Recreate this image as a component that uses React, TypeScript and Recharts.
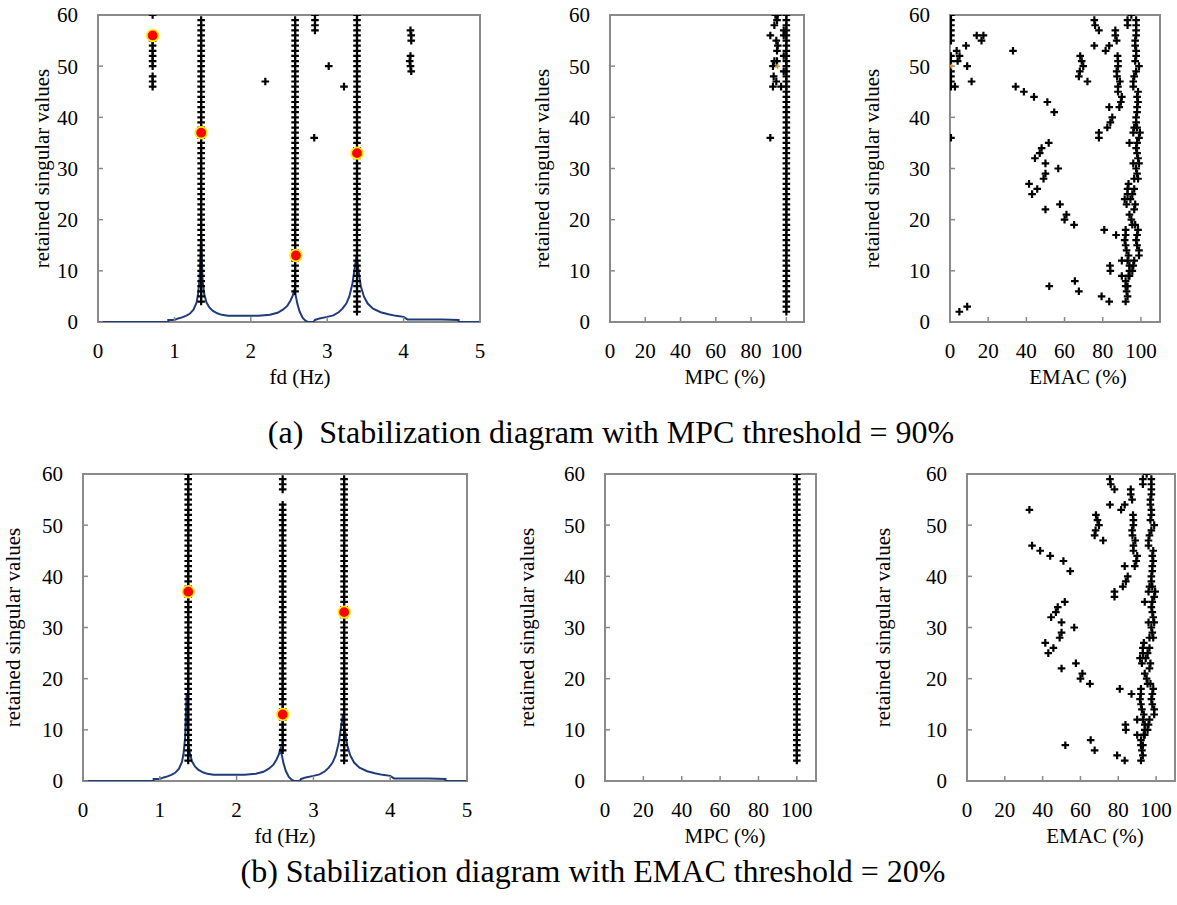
import React from 'react';
import { ComposedChart, XAxis, YAxis, Scatter, Line } from 'recharts';

const SERIF = 'Liberation Serif, Times New Roman, serif';
const FRAME = '#8a8a8a';

const ORDER_TICKS = [0, 10, 20, 30, 40, 50, 60];
const FD_TICKS = [0, 1, 2, 3, 4, 5];
const PCT_TICKS = [0, 20, 40, 60, 80, 100];

// averaged spectrum drawn under the stabilization diagram [fd, amplitude]
const SPECTRUM = [
  [0, 0], [0.92, 0], [0.92, 0.4], [1.0, 0.4], [1.05, 0.7], [1.1, 0.9], [1.15, 1.2], [1.2, 1.6],
  [1.25, 2.4], [1.29, 3.8], [1.31, 5.5], [1.33, 8.5], [1.34, 13], [1.35, 17], [1.36, 12], [1.37, 8],
  [1.39, 5.5], [1.42, 3.8], [1.46, 2.8], [1.5, 2.2], [1.56, 1.7], [1.62, 1.4], [1.7, 1.2], [1.9, 1.2],
  [2.1, 1.2], [2.25, 1.4], [2.35, 1.8], [2.42, 2.4], [2.48, 3.2], [2.52, 4.2], [2.55, 5.2], [2.57, 6.2],
  [2.59, 5], [2.61, 3.5], [2.64, 2], [2.68, 0.8], [2.72, 0.2], [2.75, 0], [2.82, 0], [2.84, 0.4],
  [2.9, 0.7], [3.0, 1.0], [3.08, 1.3], [3.15, 1.9], [3.2, 2.6], [3.25, 3.6], [3.29, 5], [3.33, 7.5],
  [3.36, 10.5], [3.385, 13], [3.41, 10], [3.44, 7], [3.48, 5], [3.53, 3.6], [3.6, 2.6], [3.7, 1.9],
  [3.8, 1.5], [3.9, 1.2], [4.0, 1.0], [4.05, 0.5], [4.5, 0.5], [4.72, 0.4], [4.72, 0], [5, 0],
];

// stable columns: [fd, first order, last order]
const COLUMNS_A = [[1.35, 4, 59], [2.58, 6, 59], [3.39, 2, 60]];
const COLUMNS_B = [[1.37, 4, 60], [2.6, 6, 54], [2.6, 57, 59], [3.4, 4, 59]];

// isolated poles in (a) [fd, order]
const SPURIOUS_A = [
  [0.715, 60], [0.715, 56], [0.715, 55], [0.715, 54], [0.715, 53], [0.715, 52], [0.715, 51],
  [0.715, 50], [0.715, 48], [0.715, 47], [0.715, 46], [2.19, 47], [2.84, 60], [2.84, 59],
  [2.84, 58], [2.84, 57], [2.83, 36], [3.02, 50], [3.22, 46], [4.09, 57], [4.1, 56], [4.1, 55],
  [4.09, 52], [4.08, 51], [4.09, 50], [4.1, 49],
];

// picked modes
const PICKS_A = [[0.715, 56], [1.35, 37], [2.59, 13], [3.39, 33]];
const PICKS_B = [[1.37, 37], [2.6, 13], [3.4, 33]];

// MPC columns: [MPC, first order, last order]
const MPC_COLUMN_A = [[100, 2, 60]];
const MPC_COLUMN_B = [[100, 4, 60]];
const MPC_EXTRA_A = [
  [93.8, 60], [95.1, 60], [94.7, 59], [93.2, 58], [98.5, 57], [90.9, 56], [98.5, 56], [94.3, 55],
  [95.1, 54], [94.7, 53], [98.5, 52], [93.2, 51], [94.7, 51], [92.4, 50], [98.5, 49], [92.8, 48],
  [94.3, 47], [92.4, 46], [97, 46], [90.9, 36],
];
const MPC_ODD_A = [[95, 50]];

// EMAC of every pole in (a) [EMAC, order]
const EMAC_A = [
  [0.5, 60], [0.5, 59], [0.5, 58], [0.5, 57], [0.5, 56], [0.5, 55], [0.5, 52], [0.5, 51],
  [0.5, 49], [0.5, 48], [0.5, 47], [0.5, 46], [0.5, 36], [14, 56], [17.5, 56], [16.5, 55],
  [8.4, 54], [3.5, 53], [5, 52], [4, 51], [9, 50], [11.3, 47], [2.6, 46], [4.9, 2], [9, 3],
  [33, 53], [34.4, 46], [38.7, 45], [44, 44], [51, 43], [54.6, 41],
  [51.7, 35], [48, 34], [47, 33], [44.5, 32], [50, 31], [56.7, 30], [50, 29], [49, 28],
  [41.4, 27], [45.7, 26], [43, 25], [57.6, 23], [50, 22], [61, 21], [60, 20], [65, 19],
  [52, 7], [65.4, 8], [67.5, 6], [79.4, 5], [83.4, 4],
  [80.8, 18], [87, 17], [90, 12], [83.8, 11], [84, 10], [90, 9],
  [75.6, 59], [76, 58], [78, 57], [75.6, 54], [83.4, 54], [81.5, 53], [68.2, 52], [69, 51],
  [69.8, 50], [68, 49], [67.5, 48], [72, 47],
  [86.6, 57], [86.6, 56], [87.3, 55], [87.8, 52], [88, 51], [88, 50], [87.3, 49], [87.5, 48],
  [89, 47], [88, 46], [88, 45], [90, 44], [89.5, 43], [88.7, 42],
  [83.4, 42], [85, 40], [84, 39], [82.4, 38], [78, 37], [78, 36],
  [95, 60], [93, 59], [97.5, 59], [93, 58], [97.5, 58], [97.5, 57], [97.5, 56], [97, 55],
  [97, 54], [97.5, 53], [97.5, 52], [97, 51], [99, 50], [97.5, 49], [96.5, 48], [96, 47],
  [96, 46], [98.5, 45], [98, 44], [98.5, 43], [98, 42], [98, 41], [97.5, 40], [97.5, 39],
  [96.5, 38], [98, 38], [96, 37], [99.5, 37], [99, 36], [94, 35], [98, 35], [97.5, 34],
  [98, 33], [98.5, 32], [96, 31], [99, 31], [97.5, 30], [98, 29], [96.5, 28], [98.5, 28],
  [93.5, 27], [93, 26], [96.5, 26], [93, 25], [95.5, 25], [91.5, 24], [94.5, 24], [92.5, 23],
  [97, 23], [96.5, 22], [94, 21], [95, 20], [95.5, 19], [97, 19], [92, 18], [98.5, 18],
  [92, 17], [98, 17], [91.5, 16], [97.5, 16], [92, 15], [98, 15], [92.5, 14], [99, 14],
  [93.5, 13], [99, 13], [93, 12], [96.5, 12], [94, 11], [96, 11], [94, 10], [95.5, 10],
  [93.5, 9], [94, 9], [92, 8], [92, 7], [93, 7], [92.5, 6], [93, 5], [92, 4],
];
const EMAC_ODD_A = [[0.8, 50]];
const EMAC_THRESHOLD = 20;

const pts = (rows: number[][]) => rows.map(([x, y]) => ({ x, y }));
const columns = (cols: number[][]) =>
  cols.flatMap(([x, lo, hi]) => Array.from({ length: hi - lo + 1 }, (_, i) => ({ x, y: lo + i })));

const Plus = (props: any) => {
  const { cx, cy } = props;
  if (cx == null || cy == null) return null;
  return <path d={`M${cx - 3.8},${cy}H${cx + 3.8}M${cx},${cy - 3.8}V${cy + 3.8}`} stroke="#000" strokeWidth={2.2} />;
};
const OrangePlus = (props: any) => {
  const { cx, cy } = props;
  if (cx == null || cy == null) return null;
  return <path d={`M${cx - 2.5},${cy}H${cx + 2.5}M${cx},${cy - 2.5}V${cy + 2.5}`} stroke="#e8892b" strokeWidth={1.5} />;
};
const Pick = (props: any) => {
  const { cx, cy } = props;
  if (cx == null || cy == null) return null;
  return <circle cx={cx} cy={cy} r={5.8} fill="#ff0000" stroke="#ffee00" strokeWidth={1.8} />;
};

const YW = 110;
const MT = 24;
const MR = 10;
const XH = 80;

interface PanelProps {
  left: number;
  top: number;
  w: number;
  h: number;
  xMax: number;
  xTicks: number[];
  xTitle: string;
  xTitleX: number;
  yTitleX: number;
  children: React.ReactNode;
}

const textStyle: React.CSSProperties = { fontFamily: SERIF, fontSize: 21 };

const Panel: React.FC<PanelProps> = ({ left, top, w, h, xMax, xTicks, xTitle, xTitleX, yTitleX, children }) => {
  const cl = left - YW;
  const ct = top - MT;
  const tx = xTitleX - cl;
  const ty = MT + h + 62;
  const yx = yTitleX - cl;
  const yy = MT + h / 2;
  const tick = { fill: '#000', fontSize: 21, fontFamily: SERIF, style: textStyle };
  return (
    <>
      {/* plot frame, under the transparent chart so the spectrum sits on top of it */}
      <div
        style={{
          position: 'absolute',
          left: left - 1,
          top: top - 1,
          width: w + 2,
          height: h + 2,
          border: `2px solid ${FRAME}`,
          boxSizing: 'border-box',
        }}
      />
      <div style={{ position: 'absolute', left: cl, top: ct, fontFamily: SERIF }}>
        <ComposedChart width={YW + w + MR} height={MT + h + XH} margin={{ top: MT, right: MR, bottom: 0, left: 0 }}>
          <XAxis
            type="number"
            dataKey="x"
            domain={[0, xMax]}
            ticks={xTicks}
            interval={0}
            allowDataOverflow
            height={XH}
            tickSize={-5}
            tickMargin={26}
            tick={tick}
            axisLine={false}
            tickLine={{ stroke: FRAME, strokeWidth: 1.5 }}
            label={() => (
              <text x={tx} y={ty} textAnchor="middle" fill="#000" style={textStyle}>
                {xTitle}
              </text>
            )}
          />
          <YAxis
            type="number"
            dataKey="y"
            domain={[0, 60]}
            ticks={ORDER_TICKS}
            interval={0}
            allowDataOverflow
            width={YW}
            tickSize={-5}
            tickMargin={25}
            tick={tick}
            axisLine={false}
            tickLine={{ stroke: FRAME, strokeWidth: 1.5 }}
            label={() => (
              <text
                x={yx}
                y={yy}
                transform={`rotate(-90 ${yx} ${yy})`}
                textAnchor="middle"
                dominantBaseline="central"
                fill="#000"
                style={textStyle}
              >
                retained singular values
              </text>
            )}
          />
          {children}
        </ComposedChart>
      </div>
    </>
  );
};

const captionStyle: React.CSSProperties = {
  position: 'absolute',
  fontFamily: SERIF,
  fontSize: 32,
  whiteSpace: 'pre',
  color: '#000',
  lineHeight: 1,
  transform: 'translate(-50%, -50%)',
};

export default function App() {
  const spectrum = pts(SPECTRUM);
  return (
    <div style={{ position: 'absolute', left: 0, top: 0, width: 1177, height: 905, overflow: 'hidden', background: '#fff', fontFamily: SERIF }}>
      <Panel left={98} top={15} w={382} h={307} xMax={5} xTicks={FD_TICKS} xTitle="fd (Hz)" xTitleX={300} yTitleX={42}>
        <Scatter data={columns(COLUMNS_A)} shape={Plus} isAnimationActive={false} />
        <Scatter data={pts(SPURIOUS_A)} shape={Plus} isAnimationActive={false} />
        <Line data={spectrum} dataKey="y" type="linear" stroke="#1f3c78" strokeWidth={2} dot={false} activeDot={false} isAnimationActive={false} />
        <Scatter data={pts(PICKS_A)} shape={Pick} isAnimationActive={false} />
      </Panel>
      <Panel left={610} top={15} w={194} h={307} xMax={110} xTicks={PCT_TICKS} xTitle="MPC (%)" xTitleX={725} yTitleX={542}>
        <Scatter data={columns(MPC_COLUMN_A)} shape={Plus} isAnimationActive={false} />
        <Scatter data={pts(MPC_EXTRA_A)} shape={Plus} isAnimationActive={false} />
        <Scatter data={pts(MPC_ODD_A)} shape={OrangePlus} isAnimationActive={false} />
      </Panel>
      <Panel left={950} top={15} w={210} h={307} xMax={110} xTicks={PCT_TICKS} xTitle="EMAC (%)" xTitleX={1078} yTitleX={872}>
        <Scatter data={pts(EMAC_A)} shape={Plus} isAnimationActive={false} />
        <Scatter data={pts(EMAC_ODD_A)} shape={OrangePlus} isAnimationActive={false} />
      </Panel>
      <div style={{ ...captionStyle, left: 611, top: 432 }}>{'(a)  Stabilization diagram with MPC threshold = 90%'}</div>

      <Panel left={83} top={474} w={384} h={307} xMax={5} xTicks={FD_TICKS} xTitle="fd (Hz)" xTitleX={285} yTitleX={13}>
        <Scatter data={columns(COLUMNS_B)} shape={Plus} isAnimationActive={false} />
        <Line data={spectrum} dataKey="y" type="linear" stroke="#1f3c78" strokeWidth={2} dot={false} activeDot={false} isAnimationActive={false} />
        <Scatter data={pts(PICKS_B)} shape={Pick} isAnimationActive={false} />
      </Panel>
      <Panel left={605} top={474} w={211} h={307} xMax={110} xTicks={PCT_TICKS} xTitle="MPC (%)" xTitleX={725} yTitleX={527}>
        <Scatter data={columns(MPC_COLUMN_B)} shape={Plus} isAnimationActive={false} />
      </Panel>
      <Panel left={967} top={474} w={208} h={307} xMax={110} xTicks={PCT_TICKS} xTitle="EMAC (%)" xTitleX={1095} yTitleX={883}>
        <Scatter data={pts(EMAC_A.filter(([e]) => e >= EMAC_THRESHOLD))} shape={Plus} isAnimationActive={false} />
      </Panel>
      <div style={{ ...captionStyle, left: 593, top: 871 }}>{'(b) Stabilization diagram with EMAC threshold = 20%'}</div>
    </div>
  );
}
